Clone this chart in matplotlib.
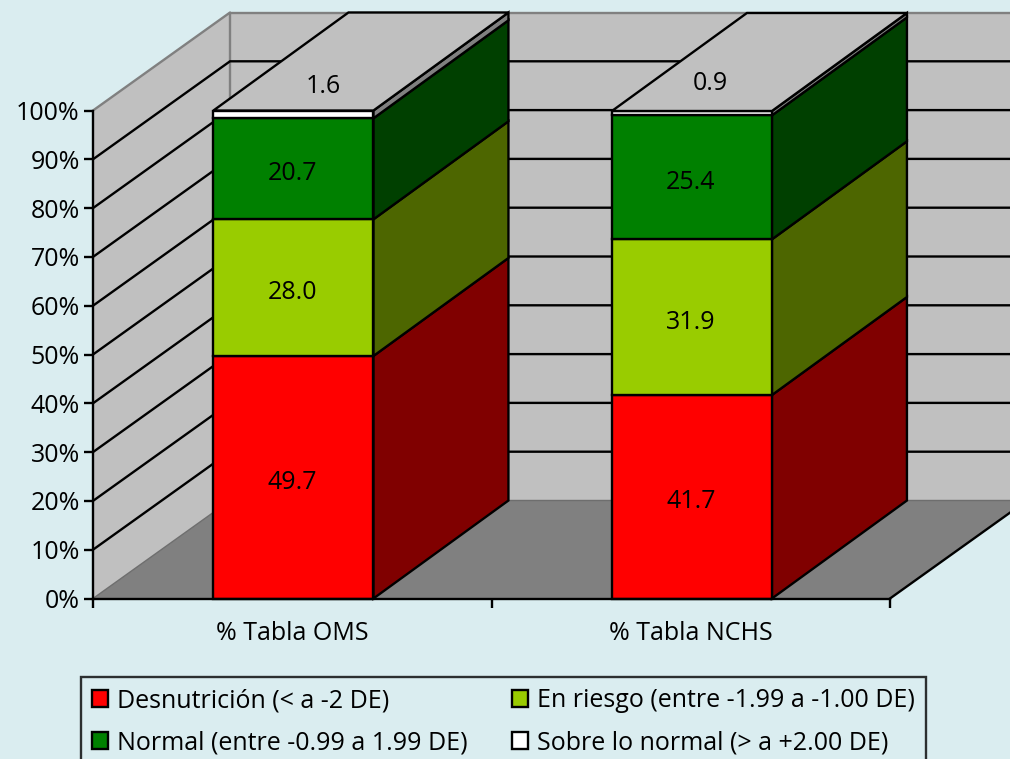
import matplotlib
matplotlib.use("Agg")
import matplotlib.pyplot as plt
from matplotlib.patches import Polygon, Patch

plt.rcParams['font.family'] = ['Open Sans', 'DejaVu Sans']

# ---- data ----
categories = ['% Tabla OMS', '% Tabla NCHS']
series_names = ['Desnutrición (< a -2 DE)', 'En riesgo (entre -1.99 a -1.00 DE)',
                'Normal (entre -0.99 a 1.99 DE)', 'Sobre lo normal (> a +2.00 DE)']
desnutricion = [49.7, 41.7]
en_riesgo = [28.0, 31.9]
normal = [20.7, 25.4]
sobre_normal = [1.6, 0.9]
y_ticks = list(range(0, 101, 10))

# ---- style ----
series = [desnutricion, en_riesgo, normal, sobre_normal]
front_colors = ['#FF0000', '#99CC00', '#008000', '#FFFFFF']
side_colors = ['#800000', '#4D6600', '#004000', '#808080']
BG = '#DAEDF0'
WALL = '#C0C0C0'
FLOOR = '#808080'
W, H = 1010, 759
L, R, B, T = 93, 890, 598.5, 110.5
LW = 1.7
FS = 18

fig = plt.figure(figsize=(W / 100, H / 100), dpi=100, facecolor=BG)
ax = fig.add_axes([L / W, 1 - B / H, (R - L) / W, (B - T) / H], facecolor='none')
ax.set_xlim(0, len(categories))
ax.set_ylim(0, 100)

# oblique depth expressed in data units
ux = (R - L) / len(categories)
uy = (B - T) / 100
dx_wall, dy_wall = 137 / ux, 98 / uy
dx_bar, dy_bar = 135 / ux, 98 / uy
xmax = len(categories)
bar_w = 160 / ux
centers = [i + 0.503 for i in range(len(categories))]


def poly(pts, fc, ec='none', lw=0, z=1, join='miter'):
    p = Polygon(pts, closed=True, facecolor=fc, edgecolor=ec, linewidth=lw,
                zorder=z, clip_on=False, joinstyle=join)
    ax.add_patch(p)


# floor, side wall, back wall
poly([(0, 0), (xmax, 0), (xmax + dx_wall, dy_wall), (dx_wall, dy_wall)], FLOOR, z=1)
poly([(0, 0), (dx_wall, dy_wall), (dx_wall, 100 + dy_wall), (0, 100)], WALL, z=1)
poly([(dx_wall, dy_wall), (xmax + dx_wall, dy_wall), (xmax + dx_wall, 100 + dy_wall),
      (dx_wall, 100 + dy_wall)], WALL, z=1)

# wall outlines
grey = dict(color='#808080', lw=LW, clip_on=False, zorder=2, solid_capstyle='butt')
ax.plot([0, dx_wall, dx_wall], [100, 100 + dy_wall, dy_wall], **grey)
ax.plot([dx_wall, xmax + dx_wall], [100 + dy_wall] * 2, **grey)
ax.plot([0, dx_wall, xmax + dx_wall], [0, dy_wall, dy_wall], color='#6E6E6E', lw=1.0,
        clip_on=False, zorder=2)

# gridlines: side wall and back wall
for v in y_ticks[1:-1]:
    ax.plot([0, dx_wall, xmax + dx_wall], [v, v + dy_wall, v + dy_wall], color='black',
            lw=LW, clip_on=False, zorder=2, solid_joinstyle='miter')

# front edge of floor, right side
ax.plot([xmax, xmax + dx_wall], [0, dy_wall], color='black', lw=LW, clip_on=False, zorder=2)

# stacked bars
for c_i, cx in enumerate(centers):
    x0, x1 = cx - bar_w / 2, cx + bar_w / 2
    bottom = 0
    for s_i, vals in enumerate(series):
        v = vals[c_i]
        top = bottom + v
        poly([(x1, bottom), (x1 + dx_bar, bottom + dy_bar), (x1 + dx_bar, top + dy_bar), (x1, top)],
             side_colors[s_i], 'black', LW, z=4)
        poly([(x0, bottom), (x1, bottom), (x1, top), (x0, top)],
             front_colors[s_i], 'black', LW, z=5)
        if s_i < 3:
            ax.annotate(f'{v:.1f}', (cx, (bottom + top) / 2), xytext=(-1, -5),
                        textcoords='offset pixels', ha='center', va='center',
                        fontsize=FS, color='black', zorder=7)
        bottom = top
    poly([(x0, bottom), (x1, bottom), (x1 + dx_bar, bottom + dy_bar), (x0 + dx_bar, bottom + dy_bar)],
         WALL, 'black', LW, z=6)

# labels of the thin top segment sit on the bar roof
roof_offsets = [(30, 24), (18, 27)]
for c_i, cx in enumerate(centers):
    ax.annotate(f'{sobre_normal[c_i]:.1f}', (cx, sum(s[c_i] for s in series)),
                xytext=roof_offsets[c_i], textcoords='offset pixels', ha='center', va='center',
                fontsize=FS, color='black', zorder=7)

# axes
for s in ['top', 'right']:
    ax.spines[s].set_visible(False)
for s in ['left', 'bottom']:
    ax.spines[s].set_linewidth(LW)
    ax.spines[s].set_zorder(8)
ax.set_yticks(y_ticks)
ax.set_yticklabels([f'{v}%' for v in y_ticks], fontsize=FS)
ax.set_xticks(range(len(categories) + 1))
ax.set_xticklabels([])
ax.set_xticks([i + 0.5 for i in range(len(categories))], labels=categories, minor=True, fontsize=FS)
ax.tick_params(axis='y', length=6.5, width=LW, pad=3)
ax.tick_params(axis='x', which='major', length=6.5, width=LW)
ax.tick_params(axis='x', which='minor', length=0, pad=16.5)

# legend (its lower edge runs past the canvas, as in the original)
handles = [Patch(facecolor=front_colors[i], edgecolor='black', linewidth=LW) for i in [0, 2, 1, 3]]
labels = [series_names[i] for i in [0, 2, 1, 3]]
leg = fig.legend(handles, labels, ncols=2, loc='upper left',
                 bbox_to_anchor=(81 / W, 1 - 677 / H), bbox_transform=fig.transFigure,
                 frameon=True, fancybox=False, facecolor=BG, edgecolor='black',
                 fontsize=FS, handlelength=0.64, handleheight=0.64, handletextpad=0.34,
                 columnspacing=1.8, labelspacing=0.69, borderpad=0.45, borderaxespad=0)
leg.get_frame().set_linewidth(LW)

fig.savefig('out.png', dpi=100, facecolor=BG)
